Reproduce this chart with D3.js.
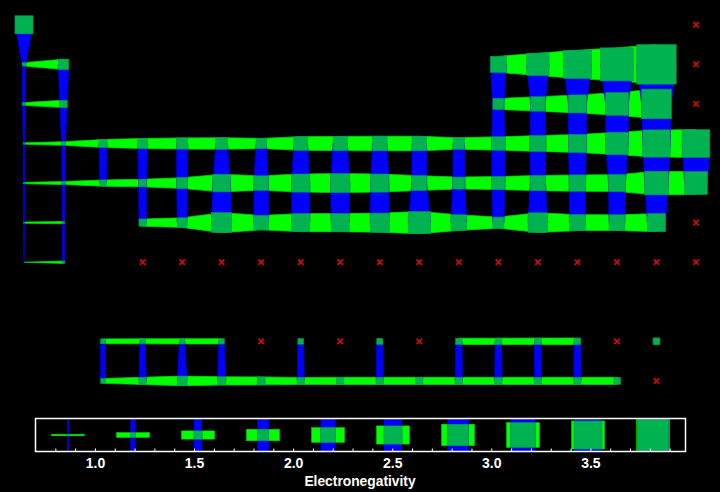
<!DOCTYPE html>
<html><head><meta charset="utf-8">
<script src="https://cdn.jsdelivr.net/npm/d3@7"></script>
<style>html,body{margin:0;padding:0;background:#000;}svg{display:block;}</style>
</head><body>
<svg id="chart" width="720" height="492"></svg>
<script>
// "" = no element at this position, null = element without an electronegativity value
const E = "", NA = null;
const period1 = [2.20, E, E, E, E, E, E, E, E, E, E, E, E, E, E, E, E, NA];
const period2 = [0.98, 1.57, E, E, E, E, E, E, E, E, E, E, 2.04, 2.55, 3.04, 3.44, 3.98, NA];
const period3 = [0.93, 1.31, E, E, E, E, E, E, E, E, E, E, 1.61, 1.90, 2.19, 2.58, 3.16, NA];
const period4 = [0.82, 1.00, 1.36, 1.54, 1.63, 1.66, 1.55, 1.83, 1.88, 1.91, 1.90, 1.65, 1.81, 2.01, 2.18, 2.55, 2.96, 3.00];
const period5 = [0.82, 0.95, 1.22, 1.33, 1.60, 2.16, 1.90, 2.20, 2.28, 2.20, 1.93, 1.69, 1.78, 1.96, 2.05, 2.10, 2.66, 2.60];
const period6 = [0.79, 0.89, E, 1.30, 1.50, 2.36, 1.90, 2.20, 2.20, 2.28, 2.54, 2.00, 1.62, 2.33, 2.02, 2.00, 2.20, NA];
const period7 = [0.70, 0.90, E, NA, NA, NA, NA, NA, NA, NA, NA, NA, NA, NA, NA, NA, NA, NA];
const gapRow  = [E, E, E, E, E, E, E, E, E, E, E, E, E, E, E, E, E, E];
const lanthanides = [E, E, 1.10, 1.12, 1.13, 1.14, NA, 1.17, NA, 1.20, NA, 1.22, 1.23, 1.24, 1.25, NA, 1.27, E];
const actinides   = [E, E, 1.10, 1.30, 1.50, 1.38, 1.36, 1.28, 1.30, 1.30, 1.30, 1.30, 1.30, 1.30, 1.30, 1.30, NA, E];
const table = [period1, period2, period3, period4, period5, period6, period7, gapRow, lanthanides, actinides];

const enMin = 0.7, enMax = 3.98;
const legendCount = 10;
const legendValues = d3.range(legendCount).map(i => enMin + (i + 0.5) * (enMax - enMin) / legendCount);
const legendTicks = [1.0, 1.5, 2.0, 2.5, 3.0, 3.5];
const legendTitle = "Electronegativity";

const COL_SQ = "#00b250", COL_SQ_EDGE = "#009a45", COL_H = "#00ff00", COL_H_EDGE = "#00d800",
      COL_V = "#0000ff", COL_V_EDGE = "#0000d0", COL_X = "#c40d0d";

const svg = d3.select("#chart");
svg.append("rect").attr("width", 720).attr("height", 492).attr("fill", "#000");

const x = d3.scaleLinear().domain([0, 17]).range([24, 696]);
const y = d3.scaleLinear().domain([0, 9]).range([24.8, 380.9]);
const size = d3.scaleLinear().domain([enMin, enMax]).range([0, 39.5]);

const isVal = v => typeof v === "number";
const cells = [];
table.forEach((row, r) => row.forEach((v, c) => { if (v !== E) cells.push({r, c, v}); }));

const hLinks = [], vLinks = [];
table.forEach((row, r) => row.forEach((v, c) => {
  if (!isVal(v)) return;
  if (c + 1 < 18 && isVal(row[c + 1])) hLinks.push({r, c, a: v, b: row[c + 1]});
  if (r + 1 < table.length && isVal(table[r + 1][c])) vLinks.push({r, c, a: v, b: table[r + 1][c]});
}));

const g = svg.append("g");
g.selectAll("polygon.h").data(hLinks).join("polygon").attr("class", "h")
  .attr("points", d => {
    const x1 = x(d.c), x2 = x(d.c + 1), yy = y(d.r), s1 = size(d.a) / 2, s2 = size(d.b) / 2;
    return [[x1, yy - s1], [x2, yy - s2], [x2, yy + s2], [x1, yy + s1]].join(" ");
  })
  .attr("fill", COL_H).attr("stroke", COL_H_EDGE).attr("stroke-width", 0.8).attr("stroke-linejoin", "round");

g.selectAll("polygon.v").data(vLinks).join("polygon").attr("class", "v")
  .attr("points", d => {
    const y1 = y(d.r), y2 = y(d.r + 1), xx = x(d.c), s1 = size(d.a) / 2, s2 = size(d.b) / 2;
    return [[xx - s1, y1], [xx + s1, y1], [xx + s2, y2], [xx - s2, y2]].join(" ");
  })
  .attr("fill", COL_V).attr("stroke", COL_V_EDGE).attr("stroke-width", 0.8).attr("stroke-linejoin", "round");

g.selectAll("rect.sq").data(cells.filter(d => isVal(d.v))).join("rect").attr("class", "sq")
  .attr("x", d => x(d.c) - size(d.v) / 2).attr("y", d => y(d.r) - size(d.v) / 2)
  .attr("width", d => size(d.v)).attr("height", d => size(d.v))
  .attr("fill", COL_SQ).attr("stroke", COL_SQ_EDGE).attr("stroke-width", 0.6);

const xm = g.selectAll("g.x").data(cells.filter(d => d.v === NA)).join("g").attr("class", "x")
  .attr("transform", d => `translate(${x(d.c)},${y(d.r)})`);
xm.append("path").attr("d", "M-2.7,-2.7L2.7,2.7M-2.7,2.7L2.7,-2.7")
  .attr("stroke", COL_X).attr("stroke-width", 1.8).attr("fill", "none");

// Legend
const lx = d3.scaleLinear().domain([enMin, enMax]).range([35.5, 685.5]);
const boxTop = 418.5, boxH = 33;
const lsize = d3.scaleLinear().domain([enMin, enMax]).range([0, boxH]);
const cellW = 650 / legendCount;
const lg = svg.append("g");
const glyph = lg.selectAll("g.gl").data(legendValues).join("g").attr("class", "gl")
  .attr("transform", (d, i) => `translate(${35.5 + cellW * (i + 0.5)},${boxTop + boxH / 2})`);
glyph.append("rect").attr("x", -boxH / 2).attr("y", d => -lsize(d) / 2).attr("width", boxH)
  .attr("height", d => Math.max(lsize(d), 1)).attr("fill", COL_H).attr("stroke", COL_H_EDGE).attr("stroke-width", 0.5);
glyph.append("rect").attr("x", d => -lsize(d) / 2).attr("y", -boxH / 2).attr("width", d => Math.max(lsize(d), 1))
  .attr("height", boxH).attr("fill", COL_V);
glyph.append("rect").attr("x", d => -lsize(d) / 2).attr("y", d => -lsize(d) / 2)
  .attr("width", d => lsize(d)).attr("height", d => lsize(d))
  .attr("fill", COL_SQ).attr("stroke", COL_SQ_EDGE).attr("stroke-width", 0.6);

lg.append("rect").attr("x", 35.5).attr("y", boxTop).attr("width", 650).attr("height", boxH)
  .attr("fill", "none").attr("stroke", "#fff").attr("stroke-width", 1.5);

const minor = d3.range(8, 40).map(v => v / 10);
const axis = d3.axisBottom(lx).tickValues(minor).tickSize(-3).tickPadding(7)
  .tickFormat(d => legendTicks.some(t => Math.abs(t - d) < 1e-6) ? d3.format(".1f")(d) : "");
const ag = lg.append("g").attr("transform", `translate(0,${boxTop + boxH})`).call(axis);
ag.select(".domain").remove();
ag.selectAll(".tick line").attr("stroke", "#fff").attr("stroke-width", 1);
ag.selectAll(".tick text").attr("fill", "#fff").attr("font-family", "Liberation Sans, Arial, sans-serif")
  .attr("font-size", 14).attr("font-weight", "bold").attr("dy", "0.71em");

svg.append("text").attr("x", 360).attr("y", 486).attr("text-anchor", "middle")
  .attr("fill", "#fff").attr("font-family", "Liberation Sans, Arial, sans-serif")
  .attr("font-size", 13.8).attr("font-weight", "bold").text(legendTitle);
</script>
</body></html>
